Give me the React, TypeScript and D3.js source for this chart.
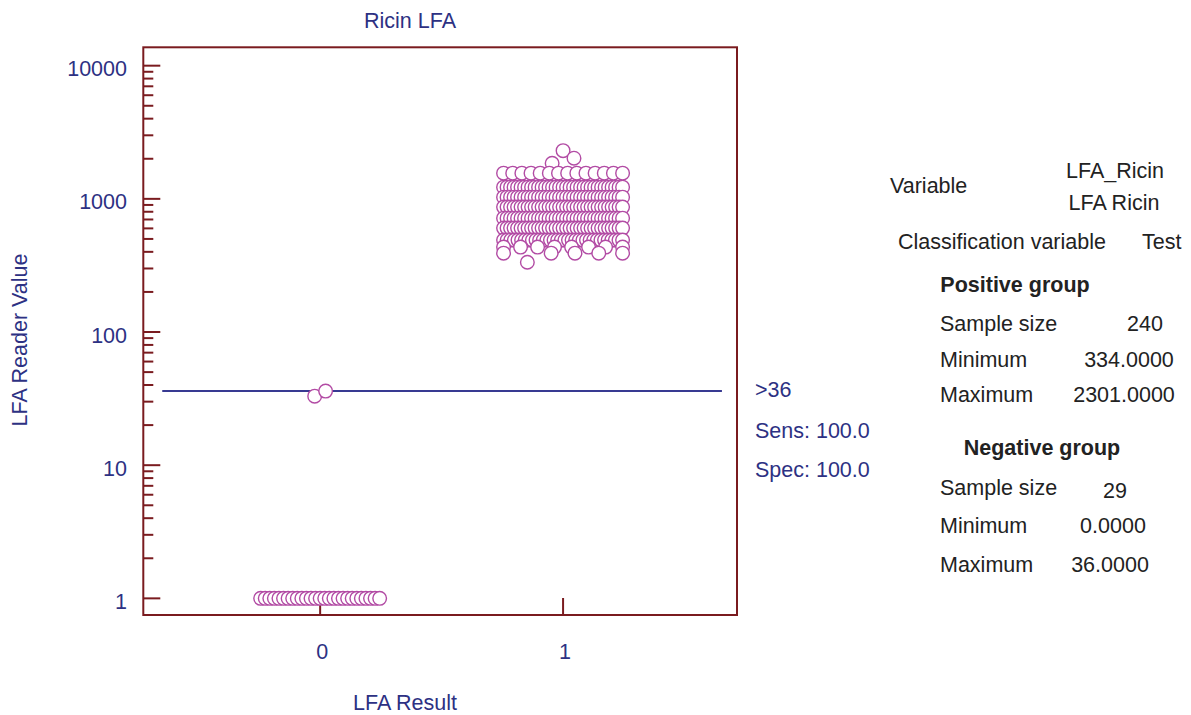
import { useEffect } from "react";
import * as d3 from "d3";

const C = {
  frame: "#7a1b1f",
  navy: "#2d3183",
  line: "#383a92",
  dot: "#b24ba4",
  ink: "#222222",
};

const W = 1191, H = 715;
const PLOT = { left: 143.3, right: 737, top: 47.3, bottom: 615 };
const FONT = "'Liberation Sans', Arial, Helvetica, sans-serif";
const FS = 21.5;

// ── data ──
const Y_MAJOR = [1, 10, 100, 1000, 10000];
const X_TICKS = [0, 1];
const CUTOFF = 36;

// positive group (LFA Result = 1): value rows, count of dots per row
const POS_TAIL = [1850, 2301, 2020];
const POS_ROWS: [number, number][] = [
  [1560, 14], [1224, 35], [1030, 35], [867, 35], [716, 35], [603, 35], [490, 34], [434, 8],
];
const POS_LOW = [391, 334, 391, 391, 391, 391];

// negative group (LFA Result = 0): 27 zero readings sit on the axis floor (1)
const NEG_ZERO_COUNT = 27;
const NEG_FLOOR = 1;
const NEG_TAIL = [33, 36];

const STATS_POS = [["Sample size", "240"], ["Minimum", "334.0000"], ["Maximum", "2301.0000"]];
const STATS_NEG = [["Sample size", "29"], ["Minimum", "0.0000"], ["Maximum", "36.0000"]];

const x = d3.scaleLinear().domain([-0.728, 1.716]).range([PLOT.left, PLOT.right]);
const y = d3.scaleLog().domain([0.75, 13740]).range([PLOT.bottom, PLOT.top]);

// spread a group of dots sideways around its category
function layout(values: number[], cat: number) {
  const n = values.length;
  const hw = n >= 4 ? 0.245 : ((n - 1) * 0.045) / 2;
  const off = d3.scaleLinear().domain([0, Math.max(1, n - 1)]).range([-hw, hw]);
  return values.map((v, i) => ({ x: cat + (n === 1 ? 0 : off(i)), v }));
}

const rep = (v: number, n: number) => Array.from({ length: n }, () => v);

const DOTS = [
  ...layout(rep(NEG_FLOOR, NEG_ZERO_COUNT), 0),
  ...layout(NEG_TAIL, 0),
  ...layout(POS_TAIL, 1),
  ...POS_ROWS.flatMap(([v, n]) => layout(rep(v, n), 1)),
  ...layout(POS_LOW, 1),
];

const MINOR = d3.range(0, 4).flatMap(d => d3.range(2, 10).map(k => k * Math.pow(10, d)));

export default function App() {
  useEffect(() => {
    document.body.style.margin = "0";
  }, []);

  const txt = { fontFamily: FONT, fontSize: FS } as const;

  return (
    <svg width={W} height={H} style={{ display: "block", background: "#fff" }}>
      {/* title + axis titles */}
      <text x={410} y={28} textAnchor="middle" fill={C.navy} {...txt}>Ricin LFA</text>
      <text x={405} y={710} textAnchor="middle" fill={C.navy} {...txt}>LFA Result</text>
      <text transform="translate(27,340) rotate(-90)" textAnchor="middle" fill={C.navy} {...txt}>LFA Reader Value</text>

      {/* y ticks */}
      {MINOR.map(t => (
        <line key={"m" + t} x1={PLOT.left} x2={PLOT.left + 10} y1={y(t)} y2={y(t)} stroke={C.frame} strokeWidth={2} />
      ))}
      {Y_MAJOR.map(t => (
        <g key={"M" + t}>
          <line x1={PLOT.left} x2={PLOT.left + 17} y1={y(t)} y2={y(t)} stroke={C.frame} strokeWidth={2} />
          <text x={127} y={y(t) + 10.5} textAnchor="end" fill={C.navy} {...txt}>{t}</text>
        </g>
      ))}

      {/* x ticks */}
      {X_TICKS.map(t => (
        <g key={"x" + t}>
          <line x1={x(t)} x2={x(t)} y1={PLOT.bottom} y2={PLOT.bottom - 17} stroke={C.frame} strokeWidth={2} />
          <text x={x(t) + 2} y={659} textAnchor="middle" fill={C.navy} {...txt}>{t}</text>
        </g>
      ))}

      {/* cutoff line */}
      <line x1={x(-0.65)} x2={x(1.654)} y1={y(CUTOFF)} y2={y(CUTOFF)} stroke={C.line} strokeWidth={2} />

      {/* dots */}
      {DOTS.map((d, i) => (
        <circle key={i} cx={x(d.x)} cy={y(d.v)} r={6.8} fill="#fff" stroke={C.dot} strokeWidth={1.4} />
      ))}

      {/* frame */}
      <rect x={PLOT.left} y={PLOT.top} width={PLOT.right - PLOT.left} height={PLOT.bottom - PLOT.top}
        fill="none" stroke={C.frame} strokeWidth={2} />

      {/* cutoff annotation */}
      <text x={755} y={397} fill={C.navy} {...txt}>{">" + CUTOFF}</text>
      <text x={755} y={438} fill={C.navy} {...txt}>Sens: 100.0</text>
      <text x={755} y={477} fill={C.navy} {...txt}>Spec: 100.0</text>

      {/* summary panel */}
      <g fill={C.ink} {...txt}>
        <text x={890} y={193}>Variable</text>
        <text x={1115} y={178} textAnchor="middle">LFA_Ricin</text>
        <text x={1114} y={210} textAnchor="middle">LFA Ricin</text>
        <text x={898} y={249}>Classification variable</text>
        <text x={1142} y={249}>Test</text>

        <text x={1015} y={292} textAnchor="middle" fontWeight="bold">Positive group</text>
        {STATS_POS.map(([k, v], i) => (
          <g key={"p" + k}>
            <text x={940} y={331 + i * 35.5}>{k}</text>
            <text x={[1145, 1129, 1124][i]} y={331 + i * 35.5} textAnchor="middle">{v}</text>
          </g>
        ))}

        <text x={1042} y={455} textAnchor="middle" fontWeight="bold">Negative group</text>
        {STATS_NEG.map(([k, v], i) => (
          <g key={"n" + k}>
            <text x={940} y={495 + i * 38.3}>{k}</text>
            <text x={[1115, 1113, 1110][i]} y={495 + i * 38.3 + (i === 0 ? 3 : 0)} textAnchor="middle">{v}</text>
          </g>
        ))}
      </g>
    </svg>
  );
}
